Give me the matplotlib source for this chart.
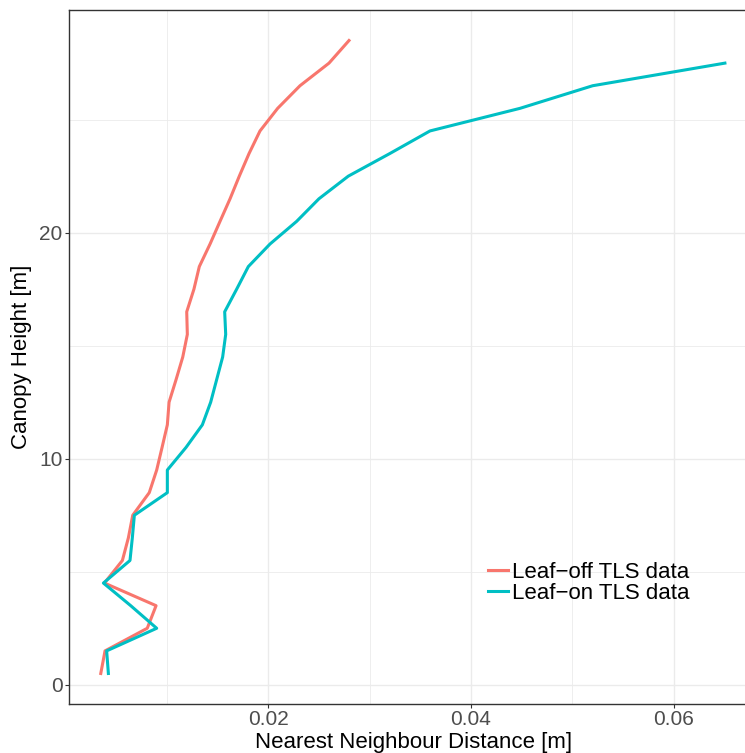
import numpy as np
import matplotlib
matplotlib.use("Agg")
import matplotlib.pyplot as plt
from matplotlib.ticker import MultipleLocator

# canopy height bins (m)
height_off = [0.5, 1.5, 2.5, 3.5, 4.5, 5.5, 6.5, 7.5, 8.5, 9.5, 10.5, 11.5, 12.5, 13.5, 14.5,
              15.5, 16.5, 17.5, 18.5, 19.5, 20.5, 21.5, 22.5, 23.5, 24.5, 25.5, 26.5, 27.5, 28.5]
height_on = height_off[:-1]

# nearest neighbour distance (m)
nnd_off = [0.00352, 0.00394, 0.0081, 0.00897, 0.00388, 0.00565, 0.00624, 0.00667, 0.0083,
           0.00903, 0.00956, 0.01008, 0.01025, 0.01094, 0.0116, 0.01205, 0.01199, 0.0127,
           0.01323, 0.01429, 0.01527, 0.01626, 0.01717, 0.01813, 0.01921, 0.02095, 0.02315,
           0.02601, 0.02798]
nnd_on = [0.00427, 0.0041, 0.00903, 0.00647, 0.00378, 0.0064, 0.00663, 0.00683, 0.01008,
          0.01008, 0.01192, 0.01353, 0.01435, 0.01494, 0.01553, 0.01583, 0.01573, 0.01691,
          0.01806, 0.0202, 0.02282, 0.02502, 0.02791, 0.0320, 0.03596, 0.04483, 0.05199,
          0.06502]

labels = ["Leaf\u2212off TLS data", "Leaf\u2212on TLS data"]
colors = ["#F8766D", "#00BFC4"]

plt.rcParams['font.family'] = ['Liberation Sans', 'DejaVu Sans']

fig = plt.figure(figsize=(7.45, 7.53), dpi=100)
W, H = 745, 753
ax = fig.add_axes([69 / W, 1 - 704 / H, 1 - 69 / W, (704 - 10) / H])

ax.plot(nnd_off, height_off, color=colors[0], lw=2.2, label=labels[0])
ax.plot(nnd_on, height_on, color=colors[1], lw=2.2, label=labels[1])

ax.set_xlim(0.00039, 0.0670)
ax.set_ylim(-0.85, 29.85)

ax.xaxis.set_minor_locator(MultipleLocator(0.01))
ax.yaxis.set_minor_locator(MultipleLocator(5))
ax.set_xticks([0.02, 0.04, 0.06])
ax.set_xticklabels(["0.02", "0.04", "0.06"])
ax.set_yticks([0, 10, 20])

ax.grid(which='major', color='#EBEBEB', lw=1.0)
ax.grid(which='minor', color='#EBEBEB', lw=0.6)
ax.set_axisbelow(True)
ax.tick_params(which='minor', length=0)
ax.tick_params(which='major', length=3, width=0.8, color='#333333',
               labelcolor='#4D4D4D', labelsize=15, pad=1.5)

for s in ['left', 'bottom', 'top']:
    ax.spines[s].set_color('#333333')
    ax.spines[s].set_linewidth(1.0)
ax.spines['right'].set_visible(False)

# axis titles, placed by pixel (panel runs past the right edge of the image)
ax.set_xlabel("Nearest Neighbour Distance [m]", fontsize=16, va='baseline')
ax.xaxis.set_label_coords((413.5 - 69) / 676, -(748 - 704) / 694)
ax.set_ylabel("Canopy Height [m]", fontsize=16, va='baseline')
ax.yaxis.set_label_coords((27 - 69) / 676, 0.5)

ax.legend(loc='center left', bbox_to_anchor=(483.5 / W, 1 - 583 / H), bbox_transform=fig.transFigure,
          frameon=False, fontsize=16, handlelength=0.9, handletextpad=0.18,
          labelspacing=0.0, borderpad=0.2, borderaxespad=0)

fig.savefig("out.png", dpi=100)
